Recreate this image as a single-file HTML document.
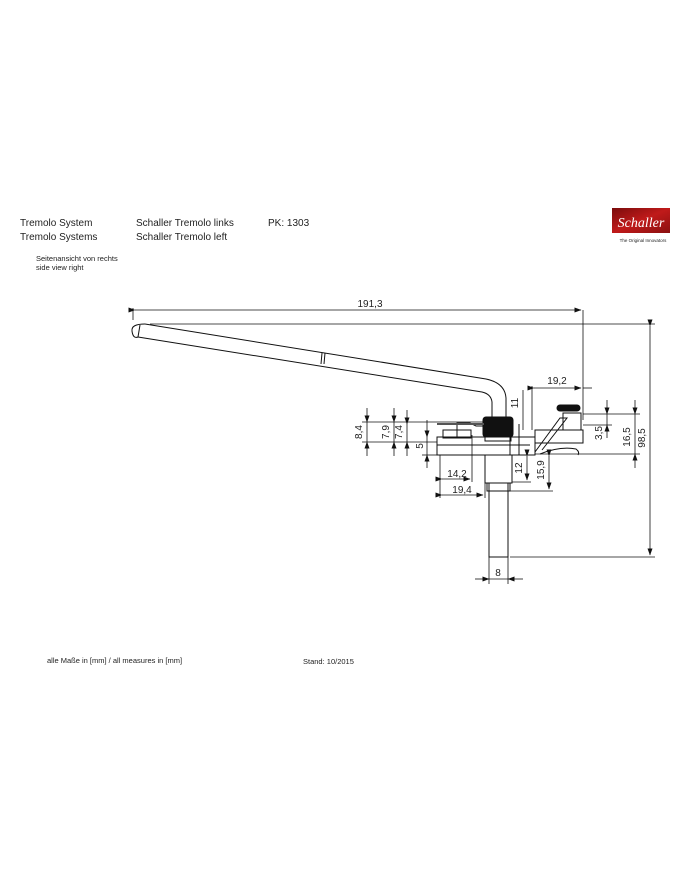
<!DOCTYPE html>
<html><head><meta charset="utf-8"><style>
html,body{margin:0;padding:0;background:#fff;}
svg{display:block;}
text{font-family:"Liberation Sans",sans-serif;fill:#222;}
</style></head><body>
<svg width="700" height="869" viewBox="0 0 700 869" xmlns="http://www.w3.org/2000/svg">
<defs>
<marker id="a" markerWidth="7" markerHeight="5" refX="6.5" refY="2.5" orient="auto" markerUnits="userSpaceOnUse"><path d="M0,0 L7,2.5 L0,5 z" fill="#111"/></marker>
<linearGradient id="g" x1="0" y1="0" x2="1" y2="1"><stop offset="0" stop-color="#7a0c0c"/><stop offset="0.5" stop-color="#c01a1a"/><stop offset="1" stop-color="#8a1010"/></linearGradient>
</defs>
<!-- header -->
<text x="20" y="226" font-size="10">Tremolo System</text>
<text x="20" y="240" font-size="10">Tremolo Systems</text>
<text x="136" y="226" font-size="10">Schaller Tremolo links</text>
<text x="136" y="240" font-size="10">Schaller Tremolo left</text>
<text x="268" y="226" font-size="10">PK: 1303</text>
<text x="36" y="261" font-size="7.5">Seitenansicht von rechts</text>
<text x="36" y="270" font-size="7.5">side view right</text>
<!-- logo -->
<rect x="612" y="208" width="58" height="25" fill="url(#g)"/>
<text x="641" y="227" font-size="14" font-style="italic" text-anchor="middle" style="font-family:'Liberation Serif',serif;fill:#fff">Schaller</text>
<text x="643" y="242" font-size="4.5" text-anchor="middle">The Original Innovators</text>
<!-- footer -->
<text x="47" y="663" font-size="7.5">alle Maße in [mm] / all measures in [mm]</text>
<text x="303" y="664" font-size="7.5">Stand: 10/2015</text>

<g stroke="#111" fill="none" stroke-width="1">
<!-- arm -->
<path d="M145,324 L486,379 Q505,383 506,398 L506,418"/>
<path d="M138,337 L482,392 Q491,394 492,402 L492,418"/>
<path d="M145,324 Q131,324 132,331 Q133,339 138,337"/>
<line x1="140" y1="325" x2="138" y2="337"/>
<line x1="322" y1="353" x2="321" y2="364"/>
<line x1="325" y1="353" x2="324" y2="364"/>
<!-- left small blocks -->
<rect x="443" y="430" width="14" height="8"/>
<rect x="457" y="430" width="14" height="8"/>
<path d="M457,430 L457,423 L470,423 L476,426 L484,426"/>
<path d="M437,438 L437,445 L530,445"/>
<rect x="437" y="437" width="98" height="18" />
<line x1="510" y1="437" x2="510" y2="455"/>
<line x1="519" y1="424" x2="519" y2="455"/>
<!-- knob -->
<rect x="483" y="417" width="30" height="20" rx="3" fill="#111"/>
<rect x="485" y="437" width="26" height="4"/>
<!-- stud -->
<rect x="485" y="455" width="27" height="28"/>
<rect x="489" y="483" width="19" height="74"/>
<rect x="487" y="483" width="23" height="8"/>
<!-- right saddle -->
<path d="M535,452 L560,418 L567,418 L542,450"/>
<rect x="557" y="405" width="23" height="6" rx="3" fill="#111"/>
<rect x="563" y="413" width="18" height="17"/>
<rect x="535" y="430" width="48" height="13"/>
<path d="M540,454 Q560,446 576,449 Q580,452 578,455"/>
<line x1="437" y1="424" x2="484" y2="424" stroke-width="2" stroke="#555"/>
</g>

<!-- dimension lines -->
<g stroke="#111" stroke-width="0.8" fill="none">
<line x1="583" y1="310" x2="583" y2="420"/>
<line x1="133" y1="320" x2="133" y2="308"/>
<line x1="135" y1="310" x2="581" y2="310" marker-start="url(#a)" marker-end="url(#a)"/>
<!-- 98,5 -->
<line x1="150" y1="324" x2="655" y2="324"/>
<line x1="510" y1="557" x2="655" y2="557"/>
<line x1="650" y1="326" x2="650" y2="555" marker-start="url(#a)" marker-end="url(#a)"/>
<!-- 16,5 -->
<line x1="583" y1="414" x2="640" y2="414"/>
<line x1="535" y1="454" x2="640" y2="454"/>
<line x1="635" y1="400" x2="635" y2="414" marker-end="url(#a)"/>
<line x1="635" y1="468" x2="635" y2="454" marker-end="url(#a)"/>
<line x1="635" y1="414" x2="635" y2="454"/>
<!-- 3,5 -->
<line x1="583" y1="425" x2="612" y2="425"/>
<line x1="607" y1="400" x2="607" y2="414" marker-end="url(#a)"/>
<line x1="607" y1="438" x2="607" y2="425" marker-end="url(#a)"/>
<line x1="607" y1="414" x2="607" y2="425"/>
<!-- 19,2 -->
<line x1="532" y1="386" x2="532" y2="430"/>
<line x1="534" y1="388" x2="581" y2="388" marker-start="url(#a)" marker-end="url(#a)"/>
<line x1="583" y1="388" x2="592" y2="388"/>
<!-- 11 -->
<line x1="523" y1="390" x2="523" y2="430"/>
<!-- 8,4 7,9 7,4 -->
<line x1="362" y1="422" x2="484" y2="422"/>
<line x1="362" y1="442" x2="437" y2="442"/>
<line x1="367" y1="408" x2="367" y2="422" marker-end="url(#a)"/>
<line x1="367" y1="456" x2="367" y2="442" marker-end="url(#a)"/>
<line x1="367" y1="422" x2="367" y2="442"/>
<line x1="394" y1="408" x2="394" y2="422" marker-end="url(#a)"/>
<line x1="394" y1="456" x2="394" y2="442" marker-end="url(#a)"/>
<line x1="394" y1="422" x2="394" y2="442"/>
<line x1="407" y1="410" x2="407" y2="424" marker-end="url(#a)"/>
<line x1="407" y1="456" x2="407" y2="442" marker-end="url(#a)"/>
<line x1="407" y1="424" x2="407" y2="442"/>
<!-- 5 -->
<line x1="427" y1="420" x2="427" y2="437" marker-end="url(#a)"/>
<line x1="427" y1="468" x2="427" y2="455" marker-end="url(#a)"/>
<line x1="427" y1="437" x2="427" y2="455"/>
<line x1="422" y1="455" x2="437" y2="455"/>
<!-- 14,2 19,4 -->
<line x1="440" y1="455" x2="440" y2="498"/>
<line x1="472" y1="435" x2="472" y2="482"/>
<line x1="485" y1="483" x2="485" y2="498"/>
<line x1="442" y1="479" x2="470" y2="479" marker-start="url(#a)" marker-end="url(#a)"/>
<line x1="442" y1="495" x2="483" y2="495" marker-start="url(#a)" marker-end="url(#a)"/>
<!-- 12 15,9 -->
<line x1="512" y1="482" x2="531" y2="482"/>
<line x1="510" y1="491" x2="553" y2="491"/>
<line x1="527" y1="456" x2="527" y2="480" marker-start="url(#a)" marker-end="url(#a)"/>
<line x1="549" y1="456" x2="549" y2="489" marker-start="url(#a)" marker-end="url(#a)"/>
<!-- 8 -->
<line x1="489" y1="557" x2="489" y2="584"/>
<line x1="508" y1="557" x2="508" y2="584"/>
<line x1="475" y1="579" x2="489" y2="579" marker-end="url(#a)"/>
<line x1="523" y1="579" x2="508" y2="579" marker-end="url(#a)"/>
<line x1="489" y1="579" x2="508" y2="579"/>
</g>

<g font-size="10">
<text x="370" y="307" text-anchor="middle">191,3</text>
<text x="557" y="384" text-anchor="middle">19,2</text>
<text x="457" y="477" text-anchor="middle">14,2</text>
<text x="462" y="493" text-anchor="middle">19,4</text>
<text x="498" y="576" text-anchor="middle">8</text>
<text transform="translate(362,432) rotate(-90)" text-anchor="middle">8,4</text>
<text transform="translate(389,432) rotate(-90)" text-anchor="middle">7,9</text>
<text transform="translate(402,432) rotate(-90)" text-anchor="middle">7,4</text>
<text transform="translate(423,446) rotate(-90)" text-anchor="middle">5</text>
<text transform="translate(518,403) rotate(-90)" text-anchor="middle">11</text>
<text transform="translate(522,468) rotate(-90)" text-anchor="middle">12</text>
<text transform="translate(544,470) rotate(-90)" text-anchor="middle">15,9</text>
<text transform="translate(602,433) rotate(-90)" text-anchor="middle">3,5</text>
<text transform="translate(630,437) rotate(-90)" text-anchor="middle">16,5</text>
<text transform="translate(645,438) rotate(-90)" text-anchor="middle">98,5</text>
</g>
</svg>
</body></html>
